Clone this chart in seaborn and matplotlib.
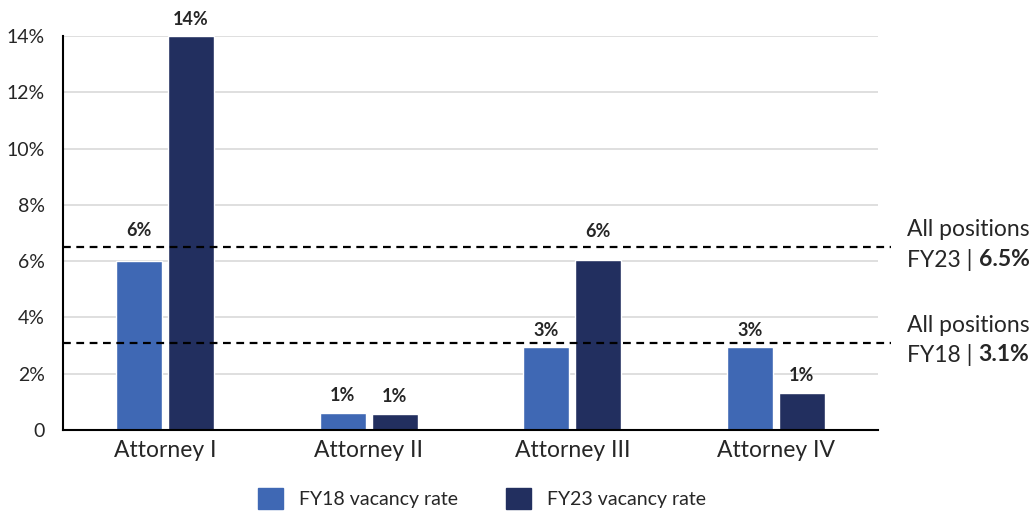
import numpy as np
import pandas as pd
import matplotlib.pyplot as plt
import seaborn as sns

# data
positions = ["Attorney I", "Attorney II", "Attorney III", "Attorney IV"]
fy18_rate = [6.0, 0.62, 2.95, 2.95]
fy23_rate = [14.0, 0.58, 6.05, 1.33]
fy18_labels = ["6%", "1%", "3%", "3%"]
fy23_labels = ["14%", "1%", "6%", "1%"]
all_fy23 = 6.5
all_fy18 = 3.1
series = ["FY18 vacancy rate", "FY23 vacancy rate"]
colors = ["#3f68b4", "#222f5f"]

df = pd.DataFrame({
    "position": positions * 2,
    "rate": fy18_rate + fy23_rate,
    "series": [series[0]] * 4 + [series[1]] * 4,
})

sns.set_style("white")
plt.rcParams["font.family"] = ["Lato", "DejaVu Sans"]

fig = plt.figure(figsize=(10.34, 5.16), dpi=100)
ax = fig.add_axes([0.061, 0.1667, 0.788, 0.7633])

sns.barplot(data=df, x="position", y="rate", hue="series", palette=colors,
            width=0.51, gap=0.115, ax=ax, legend=False, saturation=1)

# bar labels (the two near the FY23 line sit a bit higher)
pads = [[16, 6, 6, 6], [6, 6, 14, 6]]
for cont, labs, pd_ in zip(ax.containers, [fy18_labels, fy23_labels], pads):
    for bar, lab, p in zip(cont, labs, pd_):
        ax.annotate(lab, (bar.get_x() + bar.get_width() / 2, bar.get_height()),
                    xytext=(0, p), textcoords="offset points", ha="center",
                    va="bottom", fontsize=13, fontweight="bold",
                    annotation_clip=False)

ax.set_ylim(0, 14)
ax.set_xlim(-0.5, 3.5)
ax.set_yticks(np.arange(0, 15, 2))
ax.set_yticklabels(["0"] + [f"{v}%" for v in range(2, 15, 2)])
ax.yaxis.grid(True, color="#d9d9d9", linewidth=1.2)
ax.set_axisbelow(True)
ax.tick_params(axis="y", labelsize=14, length=0, pad=13)
ax.tick_params(axis="x", labelsize=16.5, length=0, pad=7)
ax.set_xlabel("")
ax.set_ylabel("")
for s in ["top", "right"]:
    ax.spines[s].set_visible(False)
ax.spines["left"].set_color("black")
ax.spines["left"].set_linewidth(1.5)
ax.spines["bottom"].set_color("black")
ax.spines["bottom"].set_linewidth(1.5)

# all-positions reference lines
for val, yr in [(all_fy23, "FY23"), (all_fy18, "FY18")]:
    ax.axhline(val, xmin=0, xmax=1.016, color="black", linestyle=(0, (3.5, 2.5)),
               linewidth=1.6, clip_on=False, zorder=4)
    tr = ax.get_yaxis_transform()
    ax.text(1.036, val + 0.25, "All positions", transform=tr, fontsize=16.5,
            va="bottom", ha="left")
    t1 = ax.text(1.036, val - 0.05, yr + " | ", transform=tr, fontsize=16.5,
                 va="top", ha="left")
    fig.canvas.draw()
    bb = t1.get_window_extent()
    x2 = ax.transAxes.inverted().transform((bb.x1, bb.y0))[0]
    ax.text(x2, val - 0.05, f"{val}%", transform=tr, fontsize=16.5,
            fontweight="bold", va="top", ha="left")

# legend
handles = [plt.Rectangle((0, 0), 1, 1, color=c) for c in colors]
fig.legend(handles, series, loc="lower center", bbox_to_anchor=(0.466, -0.02),
           ncol=2, frameon=False, fontsize=14, handlelength=1.3,
           handleheight=1.3, columnspacing=2.5, handletextpad=0.8)

fig.savefig("out.png", dpi=100)
